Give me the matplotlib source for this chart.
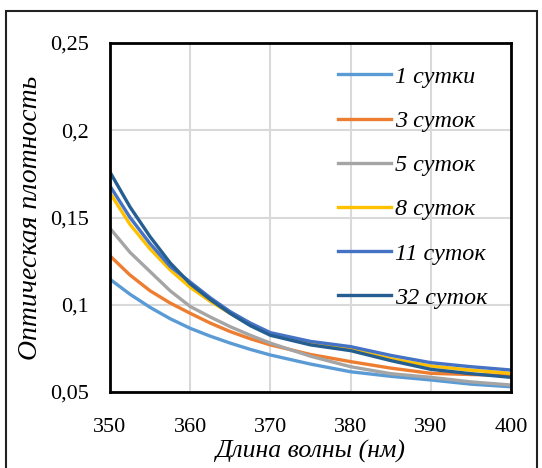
import numpy as np
import matplotlib
matplotlib.use('Agg')
import matplotlib.pyplot as plt
from matplotlib.patches import Rectangle

plt.rcParams['font.family'] = ['Liberation Serif', 'DejaVu Serif']

# wavelength (nm)
wl = [350, 352.5, 355, 357.5, 360, 362.5, 365, 367.5, 370, 375, 380, 385, 390, 395, 400]

# optical density for each exposure time
d1 = [0.1146, 0.106, 0.0985, 0.092, 0.0865, 0.082, 0.078, 0.0744, 0.0712, 0.066, 0.0616, 0.059, 0.0569, 0.0545, 0.053]
d3 = [0.128, 0.117, 0.108, 0.101, 0.0951, 0.0895, 0.0846, 0.0805, 0.077, 0.0715, 0.0674, 0.0637, 0.0607, 0.060, 0.0595]
d5 = [0.1438, 0.130, 0.119, 0.108, 0.099, 0.093, 0.0874, 0.0825, 0.078, 0.0705, 0.0645, 0.0605, 0.0584, 0.0558, 0.054]
d8 = [0.164, 0.146, 0.132, 0.120, 0.110, 0.102, 0.095, 0.0885, 0.083, 0.078, 0.0745, 0.069, 0.0649, 0.0625, 0.0607]
d11 = [0.168, 0.150, 0.135, 0.122, 0.113, 0.104, 0.096, 0.0895, 0.084, 0.079, 0.076, 0.071, 0.0668, 0.0645, 0.0626]
d32 = [0.176, 0.156, 0.139, 0.124, 0.112, 0.103, 0.095, 0.088, 0.0825, 0.077, 0.0737, 0.068, 0.063, 0.0605, 0.0584]

labels = ['1 сутки', '3 суток', '5 суток', '8 суток', '11 суток', '32 суток']
colors = ['#5B9BD5', '#ED7D31', '#A5A5A5', '#FFC000', '#4472C4', '#255E91']

fig = plt.figure(figsize=(5.42, 4.68), dpi=100)
ax = fig.add_axes([110 / 542, 1 - 392 / 468, 401 / 542, 349 / 468])

for ys, lab, c in zip([d1, d3, d5, d8, d11, d32], labels, colors):
    ax.plot(wl, ys, color=c, lw=2.4, label=lab)

ax.set_xlim(350, 400)
ax.set_ylim(0.05, 0.25)
ax.set_xticks([350, 360, 370, 380, 390, 400])
ax.set_yticks([0.05, 0.1, 0.15, 0.2, 0.25])
ax.set_yticklabels(['0,05', '0,1', '0,15', '0,2', '0,25'])
ax.grid(True, color='#D9D9D9', lw=1.5)
ax.set_axisbelow(True)
for s in ax.spines.values():
    s.set_linewidth(2)
    s.set_color('black')
ax.tick_params(length=0, labelsize=16)
ax.tick_params(axis='y', pad=15)
ax.tick_params(axis='x', pad=19)

ax.set_xlabel('Длина волны (нм)', fontsize=18.5, style='italic', labelpad=2)
ax.set_ylabel('Оптическая плотность', fontsize=20, style='italic', labelpad=5)

leg = ax.legend(loc='upper left', bbox_to_anchor=(0.569, 0.934), frameon=False,
                fontsize=17.4, handlelength=2.2, handletextpad=0.15,
                labelspacing=0.92, borderpad=0, borderaxespad=0)
for t in leg.get_texts():
    t.set_fontstyle('italic')

# outer frame
fig.patches.append(Rectangle((6 / 542, -0.05), 531 / 542, 1.05 - 11 / 468,
                             transform=fig.transFigure, fill=False,
                             edgecolor='#222222', lw=1.5))

fig.savefig('out.png', dpi=100)
